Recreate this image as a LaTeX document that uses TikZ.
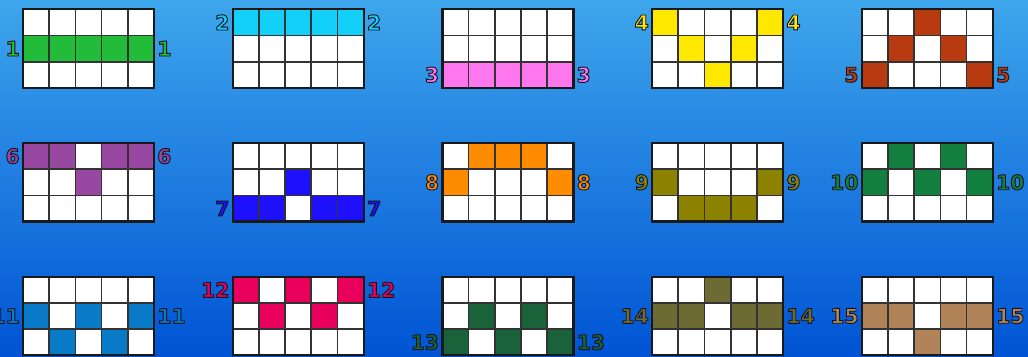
\documentclass[tikz,border=0pt]{standalone}
\usepackage{fontspec}
\setmainfont{DejaVu Sans}
\usetikzlibrary{positioning}
\definecolor{bgTop}{RGB}{62,166,236}
\definecolor{bgMid}{RGB}{10,116,222}
\definecolor{bgBot}{RGB}{0,84,212}
\definecolor{lineA}{RGB}{34,187,58}
\definecolor{lineB}{RGB}{18,208,248}
\definecolor{lineC}{RGB}{255,119,238}
\definecolor{lineD}{RGB}{255,232,0}
\definecolor{lineE}{RGB}{184,58,16}
\definecolor{lineF}{RGB}{152,72,160}
\definecolor{lineG}{RGB}{30,16,250}
\definecolor{lineH}{RGB}{255,140,0}
\definecolor{lineI}{RGB}{140,130,0}
\definecolor{lineJ}{RGB}{20,128,64}
\definecolor{lineK}{RGB}{8,122,200}
\definecolor{lineL}{RGB}{232,0,92}
\definecolor{lineM}{RGB}{26,98,58}
\definecolor{lineN}{RGB}{110,106,52}
\definecolor{lineO}{RGB}{176,132,88}
\tikzset{
  cell/.style={draw=black!80, line width=1.2pt, fill=white},
  frameln/.style={draw=black!90, line width=1.7pt},
  linelbl/.style={font=\fontsize{14.5}{14.5}\selectfont\bfseries, text=#1, inner sep=0pt},
}
% dark rim round the digits
\newcommand{\rimmed}[1]{%
  \special{pdf:literal direct 2 Tr 0.65 w 0.08 0.08 0.12 RG}#1\special{pdf:literal direct 0 Tr}}
% #1 number, #2 colour, #3 column, #4 row, #5 row hit on each reel, #6 row of the outer reels
\newcommand{\payline}[6]{%
  \begin{scope}[shift={({23+209.7*#3},{346.7-133.7*#4})}]
    \foreach \c in {0,...,4}
      \foreach \r in {0,1,2}
        \draw[cell] ({26.2*\c},{-26.2*\r}) rectangle ++(26.2,-26.2);
    \foreach \r [count=\c from 0] in {#5}
      \draw[cell, fill=#2] ({26.2*\c},{-26.2*\r}) rectangle ++(26.2,-26.2);
    \draw[frameln] (0,0) rectangle (131,-78.6);
    \node[linelbl=#2, anchor=east] (l#1) at (-3,{-26.2*#6-13.1}) {\rimmed{#1}};
    \node[linelbl=#2, anchor=west] (r#1) at (134,{-26.2*#6-13.1}) {\rimmed{#1}};
  \end{scope}}

\begin{document}
\begin{tikzpicture}[x=0.025cm, y=0.025cm]
  \useasboundingbox (0,0) rectangle (1028,356);
  \shade[top color=bgTop, middle color=bgMid, bottom color=bgBot] (0,0) rectangle (1028,356);
  % --- first row ---
  \payline{1}{lineA}{0}{0}{1,1,1,1,1}{1}
  \payline{2}{lineB}{1}{0}{0,0,0,0,0}{0}
  \payline{3}{lineC}{2}{0}{2,2,2,2,2}{2}
  \payline{4}{lineD}{3}{0}{0,1,2,1,0}{0}
  \payline{5}{lineE}{4}{0}{2,1,0,1,2}{2}
  % --- second row ---
  \payline{6}{lineF}{0}{1}{0,0,1,0,0}{0}
  \payline{7}{lineG}{1}{1}{2,2,1,2,2}{2}
  \payline{8}{lineH}{2}{1}{1,0,0,0,1}{1}
  \payline{9}{lineI}{3}{1}{1,2,2,2,1}{1}
  \payline{10}{lineJ}{4}{1}{1,0,1,0,1}{1}
  % --- third row ---
  \payline{11}{lineK}{0}{2}{1,2,1,2,1}{1}
  \payline{12}{lineL}{1}{2}{0,1,0,1,0}{0}
  \payline{13}{lineM}{2}{2}{2,1,2,1,2}{2}
  \payline{14}{lineN}{3}{2}{1,1,0,1,1}{1}
  \payline{15}{lineO}{4}{2}{1,1,2,1,1}{1}
\end{tikzpicture}
\end{document}
